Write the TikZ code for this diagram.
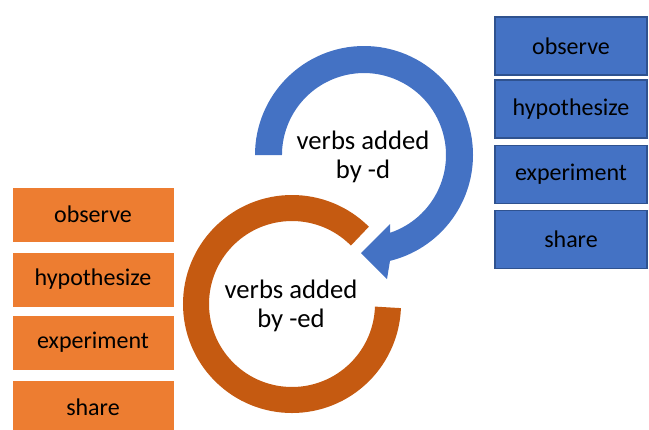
\documentclass[tikz,border=0pt]{standalone}
\usepackage{fontspec}
\setmainfont{Carlito}
\definecolor{bblue}{HTML}{4472C4}
\definecolor{bborder}{HTML}{2F528F}
\definecolor{obox}{HTML}{ED7D31}
\definecolor{oring}{HTML}{C55A11}
\begin{document}
\begin{tikzpicture}[x=0.75pt,y=-0.75pt,
  bluebox/.style={rectangle, fill=bblue, draw=bborder, line width=1.1pt,
    minimum width=114pt, minimum height=43.5pt, inner sep=0pt,
    font=\fontsize{18}{20}\selectfont, text=black},
  orangebox/.style={rectangle, fill=obox, draw=white, line width=0.4pt,
    minimum width=121.5pt, minimum height=41.5pt, inner sep=0pt,
    font=\fontsize{18}{20}\selectfont, text=black},
  circtext/.style={align=center, font=\fontsize{20}{22}\selectfont, text=black, inner sep=0pt}]
\useasboundingbox (0,0) rectangle (649,429);
% orange ring (gap at upper right)
\draw[oring, line width=19.5pt] (292,304) ++(-45:96) arc[start angle=-45, end angle=-358, radius=96];
% blue circular arrow
\fill[bblue] (364,155) ++(180:109) arc[start angle=180, end angle=436.2, radius=109]
  -- (387,279) -- (361,253) -- (390,224) -- (390,232.8)
  arc[start angle=431.5, end angle=180, radius=82] -- cycle;
% texts inside circles
\node[circtext] (bt) at (363,157) {verbs added\\by -d};
\node[circtext] (ot) at (291,306) {verbs added\\by -ed};
% blue boxes
\node[bluebox] (b1) at (571,46) {observe};
\node[bluebox] (b2) at (571,109) {hypothesize};
\node[bluebox] (b3) at (571,174.5) {experiment};
\node[bluebox] (b4) at (571,239.5) {share};
% orange boxes
\node[orangebox] (o1) at (93,214.5) {observe};
\node[orangebox] (o2) at (93,279.5) {hypothesize};
\node[orangebox] (o3) at (93,342.5) {experiment};
\node[orangebox] (o4) at (93,407.5) {share};
\end{tikzpicture}
\end{document}
